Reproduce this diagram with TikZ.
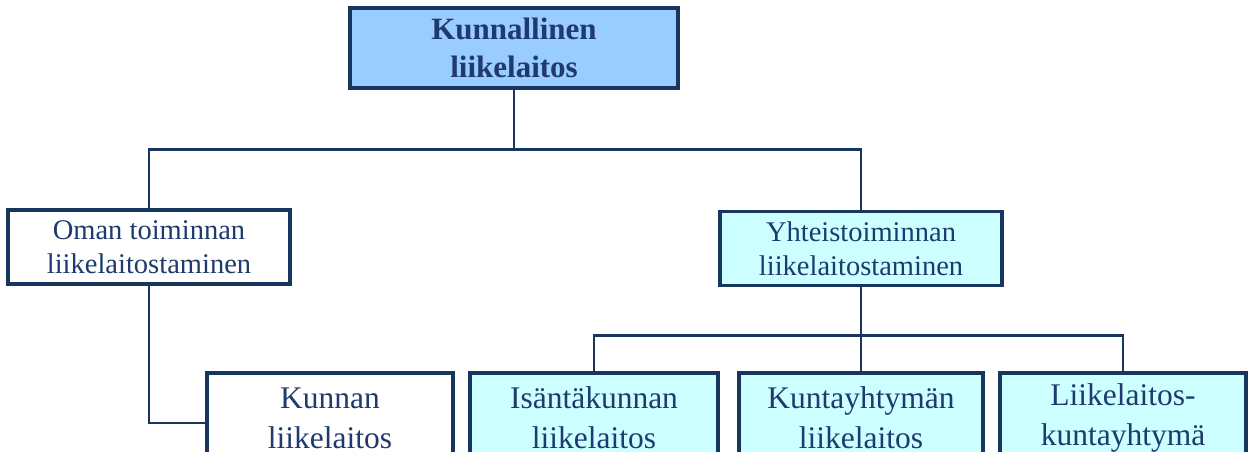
\documentclass[tikz,border=0pt]{standalone}
\usepackage{fontspec}
\setmainfont{Liberation Serif}
\definecolor{navy}{HTML}{17365D}
\definecolor{inknavy}{HTML}{1F3A6E}
\definecolor{topblue}{HTML}{99CCFF}
\definecolor{palecyan}{HTML}{CCFFFF}
\tikzset{
  orgbox/.style={draw=navy, line width=3.2pt, text=inknavy, align=center,
    inner sep=0pt},
  midbox/.style={orgbox, fill=white, minimum width=282pt, minimum height=74pt,
    font=\fontsize{28.5}{34}\selectfont},
  lowbox/.style={orgbox, fill=palecyan, minimum width=246pt, minimum height=90pt,
    font=\fontsize{31.5}{40}\selectfont},
  link/.style={draw=navy, line width=2.8pt}
}
\begin{document}
\begin{tikzpicture}[x=1pt,y=-1pt]
  \clip (0,0) rectangle (1248,452);
  \fill[white] (0,0) rectangle (1248,452);
  % top level
  \node[orgbox, fill=topblue, minimum width=328pt, minimum height=80pt,
        font=\bfseries\fontsize{31}{38}\selectfont] (kunnallinen) at (514,48)
        {Kunnallinen\\liikelaitos};
  % second level
  \node[midbox] (oman) at (149,247) {Oman toiminnan\\liikelaitostaminen};
  \node[midbox, fill=palecyan] (yhteis) at (861,248.5)
        {Yhteistoiminnan\\liikelaitostaminen};
  % third level
  \node[lowbox, fill=white] (kunnan) at (330,418) {Kunnan\\liikelaitos};
  \node[lowbox, minimum width=248pt] (isanta) at (594,418) {Isäntäkunnan\\liikelaitos};
  \node[lowbox, minimum width=244pt] (kuntay) at (861,418) {Kuntayhtymän\\liikelaitos};
  \node[lowbox] (liike) at (1123,418) {Liikelaitos-\\kuntayhtymä};
  % connectors
  \draw[link] (kunnallinen.south) -- ++(0,60) coordinate (busa);
  \draw[link] (oman.north) |- (busa) -| (yhteis.north);
  \draw[link] (oman.south) |- ([yshift=-5pt]kunnan.west);
  \draw[link] (yhteis.south) -- ++(0,48) coordinate (busb);
  \draw[link] (isanta.north) |- (busb) -| (liike.north);
  \draw[link] (busb) -- (kuntay.north);
\end{tikzpicture}
\end{document}
